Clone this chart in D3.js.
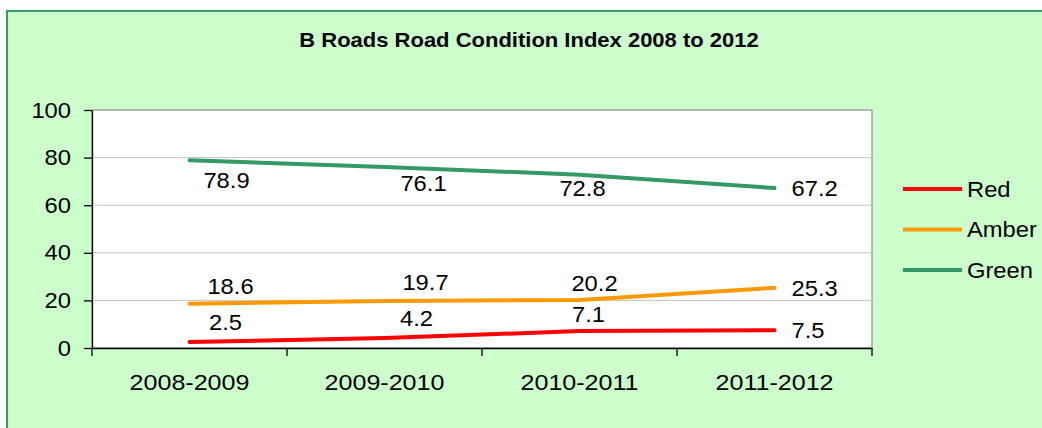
<!DOCTYPE html>
<html>
<head>
<meta charset="utf-8">
<script src="https://cdn.jsdelivr.net/npm/d3@7"></script>
<style>
  body { margin: 0; background: #fff; }
  svg text { font-family: "Liberation Sans", Arial, sans-serif; fill: #000; }
</style>
</head>
<body>
<script>
// chart data
const categories = ["2008-2009", "2009-2010", "2010-2011", "2011-2012"];
const redValues = [2.5, 4.2, 7.1, 7.5];
const amberValues = [18.6, 19.7, 20.2, 25.3];
const greenValues = [78.9, 76.1, 72.8, 67.2];
const seriesNames = ["Red", "Amber", "Green"];
const yTicks = [0, 20, 40, 60, 80, 100];
const title = "B Roads Road Condition Index 2008 to 2012";

// layout only: where the data labels were dragged to (dx, dy from the point)
const labelNudge = {
    Red:   [[36, -20], [32, -20], [9, -17]],
    Amber: [[41, -18], [41, -19], [15, -17]],
    Green: [[37, 20], [39, 16], [3, 13]]
};
const colors = { Red: "#ff0000", Amber: "#ff9900", Green: "#339966" };

const W = 1042, H = 428;
const plot = { left: 92, top: 110, right: 872, bottom: 348 };
const sx = 1.08; // source image is a bit stretched sideways

const series = [
    { name: "Red", values: redValues },
    { name: "Amber", values: amberValues },
    { name: "Green", values: greenValues }
];

const svg = d3.select('body').append('svg')
    .attr('width', W)
    .attr('height', H);

// green panel
svg.append('rect')
    .attr('x', 7).attr('y', 11)
    .attr('width', W + 20).attr('height', H + 20)
    .attr('fill', '#ccffcc')
    .attr('stroke', '#3d9a6b')
    .attr('stroke-width', 2);

svg.append('text')
    .attr('transform', 'translate(529,47) scale(1.1,1)')
    .attr('text-anchor', 'middle')
    .attr('font-size', '20px')
    .attr('font-weight', 'bold')
    .text(title);

const x = d3.scaleBand()
    .domain(categories)
    .range([plot.left, plot.right])
    .padding(0);

const y = d3.scaleLinear()
    .domain([0, 100])
    .range([plot.bottom, plot.top]);

// plot background + frame
svg.append('rect')
    .attr('x', plot.left).attr('y', plot.top)
    .attr('width', plot.right - plot.left)
    .attr('height', plot.bottom - plot.top)
    .attr('fill', '#fff')
    .attr('stroke', '#8c8c8c')
    .attr('stroke-width', 1.2);

// gridlines
svg.append('g')
    .selectAll('line')
    .data(yTicks.filter(function(d) { return d > 0 && d < 100; }))
    .enter().append('line')
    .attr('x1', plot.left).attr('x2', plot.right)
    .attr('y1', function(d) { return y(d); })
    .attr('y2', function(d) { return y(d); })
    .attr('stroke', '#c4c4c4')
    .attr('stroke-width', 1);

// y axis
const yAxis = svg.append('g')
    .attr('transform', 'translate(' + plot.left + ',0)')
    .call(d3.axisLeft(y).tickValues(yTicks).tickSize(8).tickPadding(13).tickSizeOuter(0));
yAxis.select('.domain').attr('stroke', '#000').attr('stroke-width', 1.3);
yAxis.selectAll('.tick line').attr('stroke', '#000').attr('stroke-width', 1.3);
yAxis.selectAll('.tick text')
    .attr('font-size', '22px')
    .attr('x', -21 / sx)
    .attr('transform', 'scale(' + sx + ',1)');

// x axis
const xAxis = svg.append('g')
    .attr('transform', 'translate(0,' + plot.bottom + ')')
    .call(d3.axisBottom(x).tickSize(0).tickPadding(26).tickSizeOuter(0));
xAxis.select('.domain').attr('stroke', '#000').attr('stroke-width', 1.3);
xAxis.selectAll('.tick text')
    .attr('font-size', '22px')
    .attr('transform', 'scale(' + (sx + 0.06) + ',1)');

// boundary ticks between categories
const bounds = categories.map(function(c) { return x(c); }).concat([plot.right]);
xAxis.selectAll('line.bound')
    .data(bounds)
    .enter().append('line')
    .attr('class', 'bound')
    .attr('x1', function(d) { return d; })
    .attr('x2', function(d) { return d; })
    .attr('y1', 0).attr('y2', 8)
    .attr('stroke', '#000')
    .attr('stroke-width', 1.3);

const cx = function(i) { return x(categories[i]) + x.bandwidth() / 2; };

const line = d3.line()
    .x(function(d, i) { return cx(i); })
    .y(function(d) { return y(d); });

svg.selectAll('path.series')
    .data(series)
    .enter().append('path')
    .attr('class', 'series')
    .attr('d', function(d) { return line(d.values); })
    .attr('fill', 'none')
    .attr('stroke', function(d) { return colors[d.name]; })
    .attr('stroke-width', 4)
    .attr('stroke-linecap', 'round')
    .attr('stroke-linejoin', 'round');

// data labels
series.forEach(function(s) {
    svg.append('g')
        .selectAll('text')
        .data(s.values)
        .enter().append('text')
        .attr('font-size', '22px')
        .attr('dy', '0.36em')
        .attr('text-anchor', function(d, i) { return i < 3 ? 'middle' : 'start'; })
        .attr('transform', function(d, i) {
            var px, py;
            if (i < 3) {
                px = cx(i) + labelNudge[s.name][i][0];
                py = y(d) + labelNudge[s.name][i][1];
            } else {
                px = cx(i) + 17;
                py = y(d);
            }
            return 'translate(' + px + ',' + py + ') scale(' + sx + ',1)';
        })
        .text(function(d) { return d.toFixed(1); });
});

// legend
const legend = svg.append('g')
    .selectAll('g')
    .data(seriesNames)
    .enter().append('g')
    .attr('transform', function(d, i) { return 'translate(903,' + (189 + i * 40.5) + ')'; });

legend.append('line')
    .attr('x1', 0).attr('x2', 59)
    .attr('stroke', function(d) { return colors[d]; })
    .attr('stroke-width', 4);

legend.append('text')
    .attr('transform', 'translate(64,0) scale(' + sx + ',1)')
    .attr('dy', '0.36em')
    .attr('font-size', '22px')
    .text(function(d) { return d; });
</script>
</body>
</html>
